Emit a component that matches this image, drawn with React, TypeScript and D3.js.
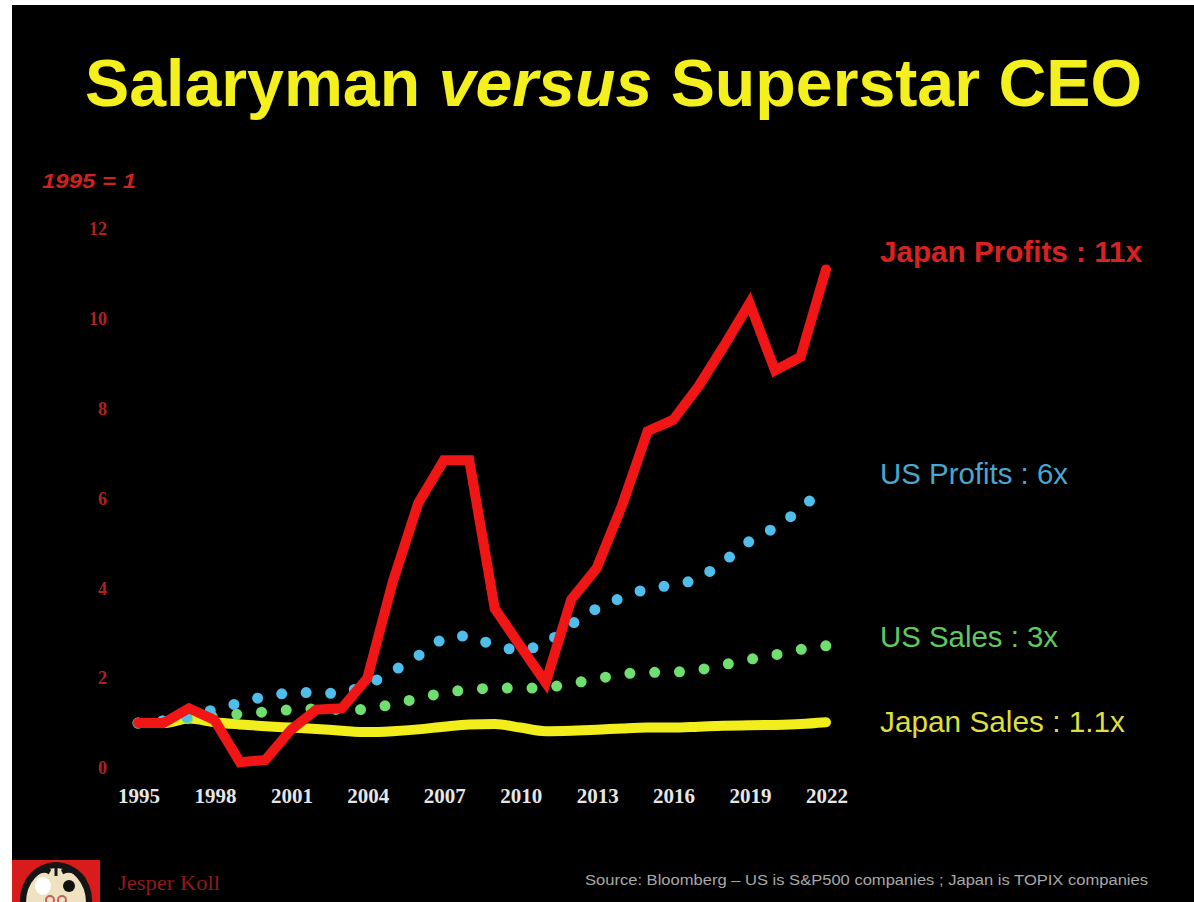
import React from "react";
import * as d3 from "d3";

const years = [1995, 1996, 1997, 1998, 1999, 2000, 2001, 2002, 2003, 2004, 2005, 2006, 2007, 2008, 2009, 2010, 2011, 2012, 2013, 2014, 2015, 2016, 2017, 2018, 2019, 2020, 2021, 2022];
const japanProfits = [1.0, 1.0, 1.33, 1.07, 0.13, 0.18, 0.85, 1.3, 1.33, 2.0, 4.15, 5.9, 6.85, 6.85, 3.55, 2.72, 1.9, 3.75, 4.45, 5.85, 7.5, 7.75, 8.5, 9.4, 10.35, 8.85, 9.15, 11.1];
const usProfits = [1.0, 1.05, 1.15, 1.3, 1.45, 1.6, 1.68, 1.68, 1.65, 1.85, 2.15, 2.5, 2.9, 2.95, 2.72, 2.6, 2.75, 3.2, 3.55, 3.8, 4.0, 4.07, 4.2, 4.6, 5.05, 5.35, 5.75, 6.3];
const usSales = [1.0, 1.05, 1.1, 1.15, 1.2, 1.25, 1.3, 1.32, 1.3, 1.3, 1.42, 1.55, 1.68, 1.75, 1.78, 1.78, 1.78, 1.88, 1.98, 2.1, 2.13, 2.13, 2.18, 2.3, 2.42, 2.52, 2.64, 2.72];
const japanSales = [1.0, 1.0, 1.1, 1.02, 0.97, 0.93, 0.9, 0.87, 0.83, 0.8, 0.82, 0.86, 0.92, 0.97, 0.98, 0.9, 0.82, 0.83, 0.85, 0.88, 0.9, 0.9, 0.92, 0.94, 0.95, 0.96, 0.98, 1.02];
const yTicks = [0, 2, 4, 6, 8, 10, 12];
const xTickYears = [1995, 1998, 2001, 2004, 2007, 2010, 2013, 2016, 2019, 2022];
const seriesLabels = ["Japan Profits : 11x", "US Profits : 6x", "US Sales : 3x", "Japan Sales : 1.1x"];

const W = 1194;
const H = 902;

export default function App() {
  const x = d3.scaleLinear().domain([1995, 2022]).range([138, 826]);
  const y = d3.scaleLinear().domain([0, 12]).range([768, 229]);
  const lineLin = d3
    .line<number>()
    .x((_, i) => x(years[i]))
    .y((d) => y(d))
    .curve(d3.curveLinear);
  const lineSmooth = d3
    .line<number>()
    .x((_, i) => x(years[i]))
    .y((d) => y(d))
    .curve(d3.curveMonotoneX);

  const sans = "'Liberation Sans', Arial, sans-serif";
  const serif = "'Liberation Serif', 'Times New Roman', serif";

  return (
    <svg
      width={W}
      height={H}
      style={{ position: "fixed", left: 0, top: 0, display: "block", background: "#fff" }}
    >
      <rect x={12} y={5} width={W - 12} height={H - 5} fill="#000" />

      {/* Title */}
      <text
        x={85}
        y={106}
        fontFamily={sans}
        fontWeight="bold"
        fontSize={67}
        fill="#f4f01e"
        textLength={1057}
        lengthAdjust="spacingAndGlyphs"
      >
        Salaryman <tspan fontStyle="italic">versus</tspan> Superstar CEO
      </text>

      {/* unit label */}
      <text
        x={42}
        y={188}
        fontFamily={sans}
        fontWeight="bold"
        fontStyle="italic"
        fontSize={21}
        fill="#d02020"
        textLength={94}
        lengthAdjust="spacingAndGlyphs"
      >
        1995 = 1
      </text>

      {/* y ticks */}
      {yTicks.map((t) => (
        <text
          key={t}
          x={107}
          y={y(t)}
          dy="0.35em"
          textAnchor="end"
          fontFamily={serif}
          fontWeight="bold"
          fontSize={18}
          fill="#b42020"
        >
          {t}
        </text>
      ))}

      {/* x ticks */}
      {xTickYears.map((yr) => (
        <text
          key={yr}
          x={x(yr) + 1}
          y={803}
          textAnchor="middle"
          fontFamily={serif}
          fontWeight="bold"
          fontSize={21}
          fill="#e6e6e6"
        >
          {yr}
        </text>
      ))}

      {/* Japan Sales */}
      <path
        d={lineSmooth(japanSales) || ""}
        fill="none"
        stroke="#f2ee1c"
        strokeWidth={10}
        strokeLinejoin="round"
        strokeLinecap="round"
      />
      {/* US Sales */}
      <path
        d={lineLin(usSales) || ""}
        fill="none"
        stroke="#6fe06f"
        strokeWidth={11}
        strokeLinecap="round"
        strokeDasharray="0 24.8"
      />
      {/* US Profits */}
      <path
        d={lineLin(usProfits) || ""}
        fill="none"
        stroke="#4fbeeb"
        strokeWidth={11}
        strokeLinecap="round"
        strokeDasharray="0 24.5"
      />
      {/* Japan Profits */}
      <path
        d={lineLin(japanProfits) || ""}
        fill="none"
        stroke="#f01616"
        strokeWidth={10}
        strokeLinejoin="miter"
        strokeLinecap="round"
      />

      {/* series labels */}
      <text x={880} y={262} fontFamily={sans} fontWeight="bold" fontSize={29} fill="#d82222" textLength={262} lengthAdjust="spacingAndGlyphs">
        {seriesLabels[0]}
      </text>
      <text x={880} y={484} fontFamily={sans} fontSize={29} fill="#4aa6cf" textLength={188} lengthAdjust="spacingAndGlyphs">
        {seriesLabels[1]}
      </text>
      <text x={880} y={647} fontFamily={sans} fontSize={29} fill="#5fc85f" textLength={178} lengthAdjust="spacingAndGlyphs">
        {seriesLabels[2]}
      </text>
      <text x={880} y={732} fontFamily={sans} fontSize={29} fill="#dede3c" textLength={245} lengthAdjust="spacingAndGlyphs">
        {seriesLabels[3]}
      </text>

      {/* logo */}
      <g>
        <clipPath id="logoClip">
          <rect x={12} y={860} width={88} height={42} />
        </clipPath>
        <rect x={12} y={860} width={88} height={42} fill="#d81c1c" />
        <g clipPath="url(#logoClip)">
          <ellipse cx={56} cy={900} rx={36} ry={38} fill="#151515" />
          <ellipse cx={56} cy={902} rx={30} ry={34} fill="#efe2c0" />
          <path d="M30,880 Q40,866 50,872" stroke="#151515" strokeWidth={5} fill="none" />
          <path d="M62,872 Q74,866 84,880" stroke="#151515" strokeWidth={5} fill="none" />
          <path d="M56,866 L56,876" stroke="#151515" strokeWidth={3} fill="none" />
          <ellipse cx={43} cy={886} rx={8} ry={9} fill="#ffffff" />
          <circle cx={69} cy={886} r={6} fill="#111" />
          <circle cx={50} cy={900} r={4} fill="none" stroke="#c06060" strokeWidth={2} />
          <circle cx={62} cy={900} r={4} fill="none" stroke="#c06060" strokeWidth={2} />
        </g>
      </g>
      <text x={118} y={890} fontFamily={serif} fontSize={21} fill="#8e1a1a" textLength={102} lengthAdjust="spacingAndGlyphs">
        Jesper Koll
      </text>

      {/* source */}
      <text x={585} y={885} fontFamily={sans} fontSize={14} fill="#a8a8a8" textLength={563} lengthAdjust="spacingAndGlyphs">
        Source: Bloomberg – US is S&amp;P500 companies ; Japan is TOPIX companies
      </text>
    </svg>
  );
}
